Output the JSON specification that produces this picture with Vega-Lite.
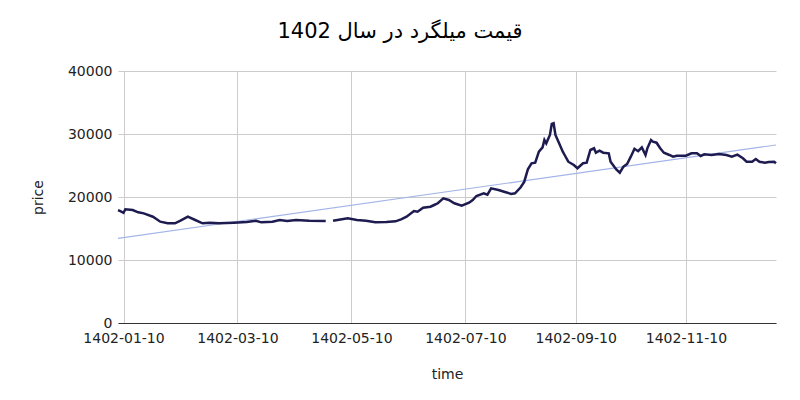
{
  "$schema": "https://vega.github.io/schema/vega-lite/v6.json",
  "autosize": "none",
  "width": 658,
  "height": 252,
  "padding": {"left": 118, "top": 71, "right": 24, "bottom": 77},
  "background": "white",
  "title": {
    "text": "قیمت میلگرد در سال 1402",
    "font": "DejaVu Sans",
    "fontSize": 21,
    "fontWeight": "normal",
    "color": "#000000",
    "anchor": "middle",
    "dx": -47,
    "offset": 22
  },
  "config": {
    "view": {"stroke": null},
    "axis": {
      "labelFont": "DejaVu Sans",
      "labelFontSize": 14,
      "labelColor": "#222222",
      "titleFont": "DejaVu Sans",
      "titleFontSize": 14,
      "titleFontWeight": "normal",
      "titleColor": "#222222",
      "gridColor": "#cccccc",
      "gridWidth": 1,
      "ticks": false
    }
  },
  "encoding": {
    "x": {
      "field": "day",
      "type": "quantitative",
      "title": "time",
      "scale": {"domain": [7, 365], "nice": false, "zero": false},
      "axis": {
        "values": [10, 72, 134, 196, 256, 316],
        "labelExpr": "datum.value == 10 ? '1402-01-10' : datum.value == 72 ? '1402-03-10' : datum.value == 134 ? '1402-05-10' : datum.value == 196 ? '1402-07-10' : datum.value == 256 ? '1402-09-10' : '1402-11-10'",
        "grid": true,
        "domain": true,
        "domainColor": "#333333",
        "domainWidth": 1,
        "labelPadding": 8,
        "titlePadding": 22
      }
    },
    "y": {
      "field": "price",
      "type": "quantitative",
      "title": "price",
      "scale": {"domain": [0, 40000], "nice": false},
      "axis": {
        "values": [0, 10000, 20000, 30000, 40000],
        "format": "d",
        "domain": false,
        "grid": true,
        "labelPadding": 6,
        "titlePadding": 22
      }
    }
  },
  "layer": [
    {
      "data": {"values": [
        {"day": 7, "price": 13440},
        {"day": 365, "price": 28250}
      ]},
      "mark": {"type": "line", "color": "#a3b4e8", "strokeWidth": 1.2}
    },
    {
      "data": {"values": [
        {"day": 7, "price": 17900}, {"day": 8, "price": 17800}, {"day": 10, "price": 17500},
        {"day": 11, "price": 18050}, {"day": 15, "price": 17940}, {"day": 18, "price": 17570},
        {"day": 21, "price": 17400}, {"day": 26, "price": 16870}, {"day": 30, "price": 16080},
        {"day": 34, "price": 15820}, {"day": 38, "price": 15820}, {"day": 41, "price": 16240},
        {"day": 45, "price": 16870}, {"day": 49, "price": 16350}, {"day": 53, "price": 15820},
        {"day": 57, "price": 15920}, {"day": 62, "price": 15820}, {"day": 70, "price": 15920},
        {"day": 77, "price": 16030}, {"day": 82, "price": 16240}, {"day": 85, "price": 15980},
        {"day": 91, "price": 16080}, {"day": 95, "price": 16350}, {"day": 99, "price": 16190},
        {"day": 104, "price": 16350}, {"day": 111, "price": 16240}, {"day": 120, "price": 16190},
        {"day": 121, "price": null},
        {"day": 124, "price": 16240}, {"day": 132, "price": 16610}, {"day": 137, "price": 16350},
        {"day": 142, "price": 16240}, {"day": 147, "price": 15980}, {"day": 153, "price": 16030},
        {"day": 158, "price": 16140}, {"day": 161, "price": 16460}, {"day": 164, "price": 16870},
        {"day": 168, "price": 17780}, {"day": 170, "price": 17670}, {"day": 173, "price": 18300},
        {"day": 177, "price": 18460}, {"day": 179, "price": 18730}, {"day": 181, "price": 19000},
        {"day": 184, "price": 19790}, {"day": 187, "price": 19520}, {"day": 190, "price": 19000},
        {"day": 194, "price": 18620}, {"day": 198, "price": 19100}, {"day": 200, "price": 19520},
        {"day": 202, "price": 20160}, {"day": 206, "price": 20590}, {"day": 208, "price": 20370},
        {"day": 210, "price": 21380}, {"day": 214, "price": 21110}, {"day": 218, "price": 20750},
        {"day": 221, "price": 20480}, {"day": 223, "price": 20590}, {"day": 226, "price": 21500},
        {"day": 228, "price": 22400}, {"day": 230, "price": 24400}, {"day": 232, "price": 25350},
        {"day": 234, "price": 25450}, {"day": 236, "price": 27200}, {"day": 238, "price": 27890},
        {"day": 239, "price": 29050}, {"day": 240, "price": 28520}, {"day": 242, "price": 29840},
        {"day": 243, "price": 31590}, {"day": 244, "price": 31700}, {"day": 245, "price": 29840},
        {"day": 247, "price": 28520}, {"day": 249, "price": 27200}, {"day": 250, "price": 26670},
        {"day": 252, "price": 25600}, {"day": 255, "price": 25080}, {"day": 257, "price": 24560},
        {"day": 260, "price": 25350}, {"day": 262, "price": 25450}, {"day": 264, "price": 27460},
        {"day": 266, "price": 27730}, {"day": 267, "price": 27030}, {"day": 269, "price": 27350},
        {"day": 271, "price": 27030}, {"day": 274, "price": 26940}, {"day": 275, "price": 25600},
        {"day": 278, "price": 24400}, {"day": 280, "price": 23860}, {"day": 282, "price": 24810},
        {"day": 284, "price": 25240}, {"day": 286, "price": 26400}, {"day": 288, "price": 27650},
        {"day": 290, "price": 27270}, {"day": 292, "price": 27860}, {"day": 294, "price": 26670},
        {"day": 295, "price": 27730}, {"day": 297, "price": 29050}, {"day": 298, "price": 28780},
        {"day": 300, "price": 28620}, {"day": 302, "price": 27730}, {"day": 304, "price": 27030},
        {"day": 307, "price": 26670}, {"day": 309, "price": 26400}, {"day": 311, "price": 26560},
        {"day": 316, "price": 26560}, {"day": 319, "price": 26940}, {"day": 322, "price": 26940},
        {"day": 324, "price": 26510}, {"day": 326, "price": 26780}, {"day": 330, "price": 26670},
        {"day": 334, "price": 26830}, {"day": 338, "price": 26670}, {"day": 341, "price": 26400},
        {"day": 344, "price": 26720}, {"day": 347, "price": 26140}, {"day": 349, "price": 25600},
        {"day": 352, "price": 25600}, {"day": 354, "price": 26030}, {"day": 356, "price": 25600},
        {"day": 359, "price": 25450}, {"day": 361, "price": 25560}, {"day": 364, "price": 25600},
        {"day": 365, "price": 25350}
      ]},
      "mark": {"type": "line", "color": "#1d1b4f", "strokeWidth": 2.5, "invalid": "break-paths-show-domains"}
    }
  ]
}
